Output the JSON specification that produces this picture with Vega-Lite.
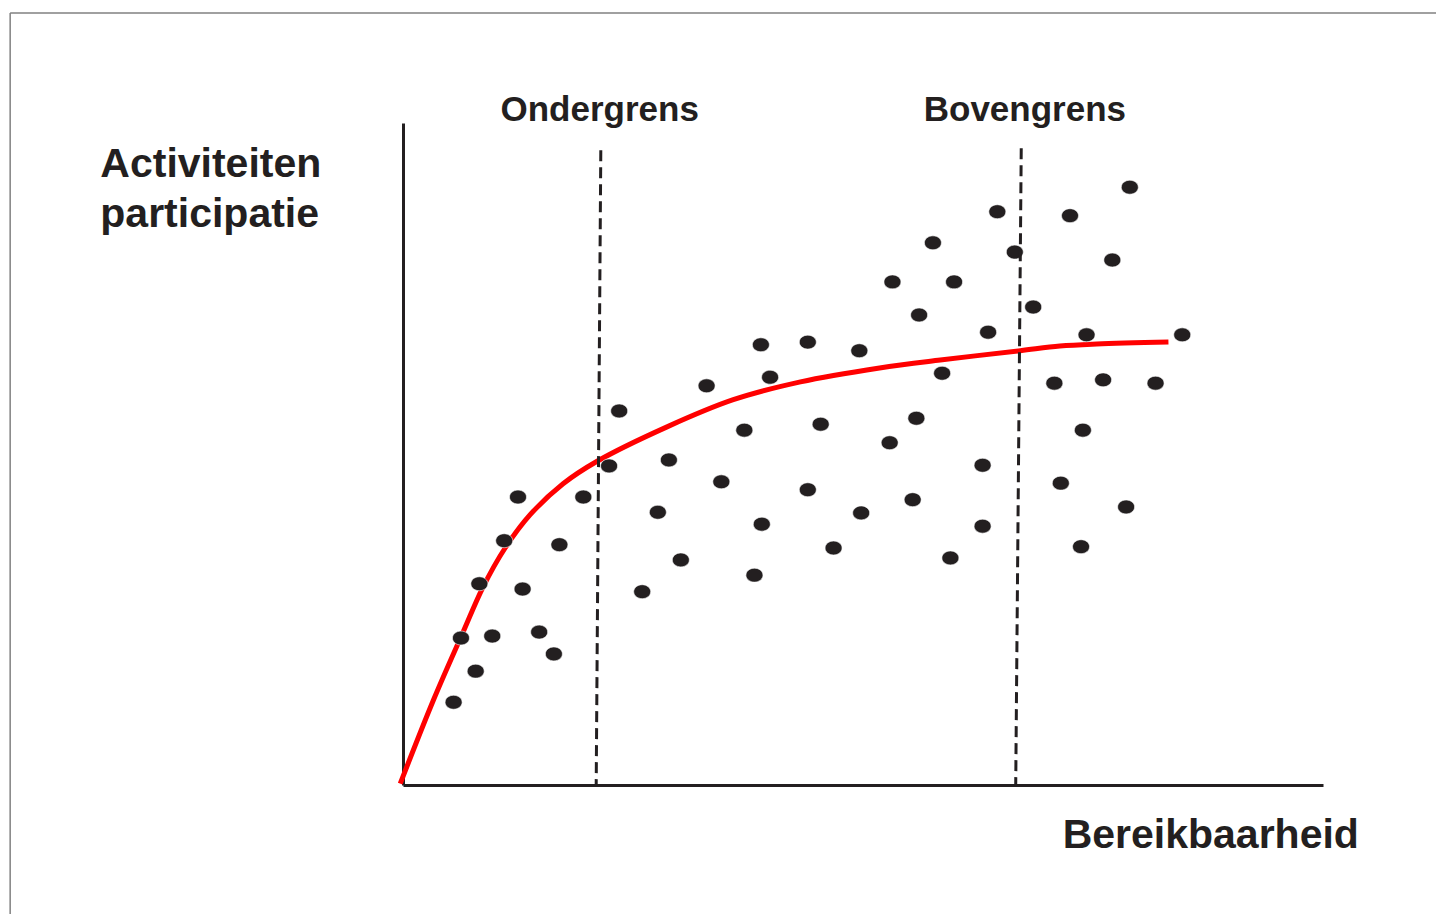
{
  "$schema": "https://vega.github.io/schema/vega-lite/v6.json",
  "width": 920,
  "height": 662,
  "autosize": {"type": "none"},
  "padding": {"left": 403, "top": 123, "right": 113, "bottom": 129},
  "background": "#ffffff",
  "config": {
    "view": {"stroke": null},
    "axis": {"labels": false, "ticks": false, "grid": false, "domain": true, "domainColor": "#231f20", "domainWidth": 3}
  },
  "datasets": {
    "frame": [
      {"x": -42.7, "y": 116.6, "x2": 112.3, "y2": 116.6},
      {"x": -42.7, "y": 116.6, "x2": -42.7, "y2": -19.5}
    ],
    "grenzen": [
      {"naam": "Ondergrens", "x": 21.5, "y": 95.9, "x2": 21.0, "y2": 0},
      {"naam": "Bovengrens", "x": 67.2, "y": 96.2, "x2": 66.6, "y2": 0}
    ],
    "curve": [
      {"x": -0.3, "y": 0.2}, {"x": 3.3, "y": 12.8}, {"x": 6.5, "y": 23.0}, {"x": 8.7, "y": 29.9},
      {"x": 11.1, "y": 35.8}, {"x": 13.8, "y": 40.8}, {"x": 17.4, "y": 45.5}, {"x": 21.1, "y": 48.9},
      {"x": 28.7, "y": 54.1}, {"x": 35.9, "y": 58.2}, {"x": 43.2, "y": 60.9}, {"x": 51.8, "y": 63.0},
      {"x": 58.4, "y": 64.2}, {"x": 67.1, "y": 65.6}, {"x": 71.4, "y": 66.3}, {"x": 75.4, "y": 66.6},
      {"x": 83.2, "y": 66.9}
    ],
    "punten": [
      {"x": 5.5, "y": 12.5}, {"x": 7.9, "y": 17.2}, {"x": 6.3, "y": 22.2}, {"x": 9.7, "y": 22.5},
      {"x": 8.3, "y": 30.4}, {"x": 13.0, "y": 29.6}, {"x": 11.0, "y": 36.9}, {"x": 12.5, "y": 43.5},
      {"x": 14.8, "y": 23.1}, {"x": 16.4, "y": 19.8}, {"x": 17.0, "y": 36.3}, {"x": 19.6, "y": 43.5},
      {"x": 22.4, "y": 48.2}, {"x": 23.5, "y": 56.5}, {"x": 26.0, "y": 29.2}, {"x": 27.7, "y": 41.2},
      {"x": 28.9, "y": 49.1}, {"x": 30.2, "y": 34.0}, {"x": 33.0, "y": 60.3}, {"x": 34.6, "y": 45.8},
      {"x": 37.1, "y": 53.6}, {"x": 38.2, "y": 31.7}, {"x": 38.9, "y": 66.5}, {"x": 39.0, "y": 39.4},
      {"x": 39.9, "y": 61.6}, {"x": 44.0, "y": 66.9}, {"x": 44.0, "y": 44.6}, {"x": 45.4, "y": 54.5},
      {"x": 46.8, "y": 35.8}, {"x": 49.6, "y": 65.6}, {"x": 49.8, "y": 41.1}, {"x": 52.9, "y": 51.7},
      {"x": 53.2, "y": 76.0}, {"x": 55.4, "y": 43.1}, {"x": 55.8, "y": 55.4}, {"x": 56.1, "y": 71.0},
      {"x": 57.6, "y": 81.9}, {"x": 58.6, "y": 62.2}, {"x": 59.5, "y": 34.3}, {"x": 59.9, "y": 76.0},
      {"x": 63.0, "y": 48.3}, {"x": 63.0, "y": 39.1}, {"x": 63.6, "y": 68.4}, {"x": 64.6, "y": 86.6},
      {"x": 66.5, "y": 80.5}, {"x": 68.5, "y": 72.2}, {"x": 70.8, "y": 60.7}, {"x": 71.5, "y": 45.6},
      {"x": 72.5, "y": 86.0}, {"x": 73.7, "y": 36.0}, {"x": 73.9, "y": 53.6}, {"x": 74.3, "y": 68.0},
      {"x": 76.1, "y": 61.2}, {"x": 77.1, "y": 79.3}, {"x": 78.6, "y": 42.0}, {"x": 79.0, "y": 90.3},
      {"x": 81.8, "y": 60.7}, {"x": 84.7, "y": 68.0}
    ],
    "astitels": [
      {"label": "Activiteiten", "x": -32.9, "y": 91.8},
      {"label": "participatie", "x": -32.9, "y": 84.3},
      {"label": "Bereikbaarheid", "x": 71.7, "y": -9.5}
    ],
    "grenslabels": [
      {"label": "Ondergrens", "x": 10.6, "y": 100.3},
      {"label": "Bovengrens", "x": 56.6, "y": 100.3}
    ]
  },
  "layer": [
    {
      "data": {"name": "frame"},
      "mark": {"type": "rule", "color": "#808080", "strokeWidth": 1.5},
      "encoding": {
        "x": {"field": "x", "type": "quantitative", "scale": {"domain": [0, 100], "nice": false, "zero": false}, "title": null},
        "y": {"field": "y", "type": "quantitative", "scale": {"domain": [0, 100], "nice": false, "zero": false}, "title": null},
        "x2": {"field": "x2"},
        "y2": {"field": "y2"}
      }
    },
    {
      "data": {"name": "curve"},
      "mark": {"type": "line", "color": "#ff0000", "strokeWidth": 5, "interpolate": "catmull-rom", "strokeCap": "butt"},
      "encoding": {
        "x": {"field": "x", "type": "quantitative", "scale": {"domain": [0, 100], "nice": false, "zero": false}, "title": null},
        "y": {"field": "y", "type": "quantitative", "scale": {"domain": [0, 100], "nice": false, "zero": false}, "title": null}
      }
    },
    {
      "data": {"name": "punten"},
      "mark": {"type": "point", "shape": "M-1,0A1,0.82,0,1,1,1,0A1,0.82,0,1,1,-1,0Z", "size": 289, "filled": true, "color": "#231f20", "opacity": 1, "stroke": "#ffffff", "strokeWidth": 0.6},
      "encoding": {
        "x": {"field": "x", "type": "quantitative", "scale": {"domain": [0, 100], "nice": false, "zero": false}, "title": null},
        "y": {"field": "y", "type": "quantitative", "scale": {"domain": [0, 100], "nice": false, "zero": false}, "title": null}
      }
    },
    {
      "data": {"name": "grenzen"},
      "mark": {"type": "rule", "color": "#231f20", "strokeWidth": 3, "strokeDash": [11, 6]},
      "encoding": {
        "x": {"field": "x", "type": "quantitative", "scale": {"domain": [0, 100], "nice": false, "zero": false}, "title": null},
        "y": {"field": "y", "type": "quantitative", "scale": {"domain": [0, 100], "nice": false, "zero": false}, "title": null},
        "x2": {"field": "x2"},
        "y2": {"field": "y2"}
      }
    },
    {
      "data": {"name": "astitels"},
      "mark": {"type": "text", "font": "Liberation Sans", "fontWeight": "bold", "fontSize": 41, "color": "#231f20", "align": "left", "baseline": "alphabetic"},
      "encoding": {
        "x": {"field": "x", "type": "quantitative", "scale": {"domain": [0, 100], "nice": false, "zero": false}, "title": null},
        "y": {"field": "y", "type": "quantitative", "scale": {"domain": [0, 100], "nice": false, "zero": false}, "title": null},
        "text": {"field": "label"}
      }
    },
    {
      "data": {"name": "grenslabels"},
      "mark": {"type": "text", "font": "Liberation Sans", "fontWeight": "bold", "fontSize": 35, "color": "#231f20", "align": "left", "baseline": "alphabetic"},
      "encoding": {
        "x": {"field": "x", "type": "quantitative", "scale": {"domain": [0, 100], "nice": false, "zero": false}, "title": null},
        "y": {"field": "y", "type": "quantitative", "scale": {"domain": [0, 100], "nice": false, "zero": false}, "title": null},
        "text": {"field": "label"}
      }
    }
  ]
}
